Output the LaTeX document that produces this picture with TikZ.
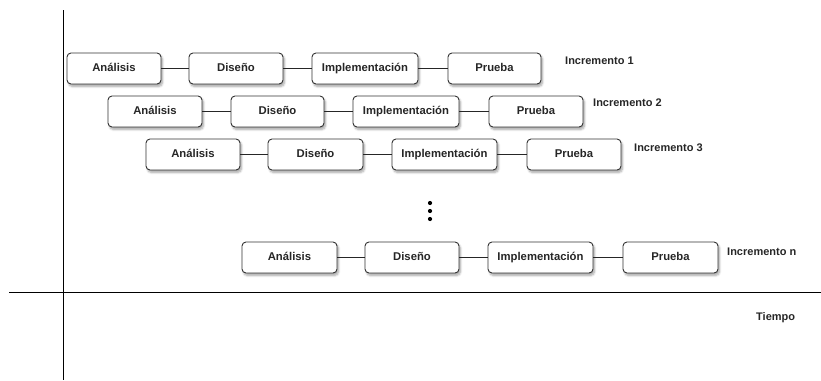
\documentclass[tikz,border=0pt]{standalone}
\usepackage{fontspec}
\setmainfont{Liberation Sans}
\usetikzlibrary{shadows.blur}
\begin{document}
\begin{tikzpicture}[x=1pt,y=-1pt,
  phase/.style={draw=black!80, line width=0.9pt, rounded corners=4pt, fill=white,
    minimum height=31pt, inner sep=0pt, text height=8.2pt, text depth=2.3pt,
    font=\fontsize{11.3}{13}\selectfont\bfseries, text=black!85,
    blur shadow={shadow xshift=1.5pt, shadow yshift=-2.5pt, shadow blur steps=6, shadow opacity=35}},
  link/.style={draw=black!85, line width=0.9pt},
  axis/.style={draw=black, line width=1.6pt},
  tag/.style={anchor=west, inner sep=0pt, font=\fontsize{11}{13}\selectfont\bfseries, text=black!85},
  dot/.style={circle, fill=black, inner sep=0pt, minimum size=4.2pt}]
\useasboundingbox (0,0) rectangle (821,380);

% axes
\coordinate (yTop) at (63.5,10);
\coordinate (yBot) at (63.5,380);
\coordinate (xL) at (9,292.5);
\coordinate (xR) at (821,292.5);
\draw[axis] (yTop) -- (yBot);
\draw[axis] (xL) -- (xR);
\node[tag] (tiempo) at (756,318) {Tiempo};

% increment 1
\node[phase, minimum width=94pt] (a1) at (114,68.5) {Análisis};
\node[phase, minimum width=94pt] (d1) at (236,68.5) {Diseño};
\node[phase, minimum width=106pt] (i1) at (365,68.5) {Implementación};
\node[phase, minimum width=93pt] (p1) at (494.5,68.5) {Prueba};
\node[tag] (t1) at (565,61) {Incremento 1};

% increment 2
\node[phase, minimum width=94pt] (a2) at (155,111.5) {Análisis};
\node[phase, minimum width=93pt] (d2) at (277.5,111.5) {Diseño};
\node[phase, minimum width=106pt] (i2) at (406,111.5) {Implementación};
\node[phase, minimum width=94pt] (p2) at (536,111.5) {Prueba};
\node[tag] (t2) at (593,103) {Incremento 2};

% increment 3
\node[phase, minimum width=94pt] (a3) at (193,154.5) {Análisis};
\node[phase, minimum width=95pt] (d3) at (315.5,154.5) {Diseño};
\node[phase, minimum width=105pt] (i3) at (444.5,154.5) {Implementación};
\node[phase, minimum width=94pt] (p3) at (574,154.5) {Prueba};
\node[tag] (t3) at (634,148) {Incremento 3};

% ellipsis
\node[dot] (e1) at (430,203) {};
\node[dot] (e2) at (430,211) {};
\node[dot] (e3) at (430,219) {};

% increment n
\node[phase, minimum width=95pt] (an) at (289.5,257.5) {Análisis};
\node[phase, minimum width=94pt] (dn) at (412,257.5) {Diseño};
\node[phase, minimum width=105pt] (in) at (540.5,257.5) {Implementación};
\node[phase, minimum width=95pt] (pn) at (670.5,257.5) {Prueba};
\node[tag] (tn) at (727,252) {Incremento n};

% connectors
\foreach \r in {1,2,3,n}{
  \draw[link] (a\r) -- (d\r);
  \draw[link] (d\r) -- (i\r);
  \draw[link] (i\r) -- (p\r);
}
\end{tikzpicture}
\end{document}
